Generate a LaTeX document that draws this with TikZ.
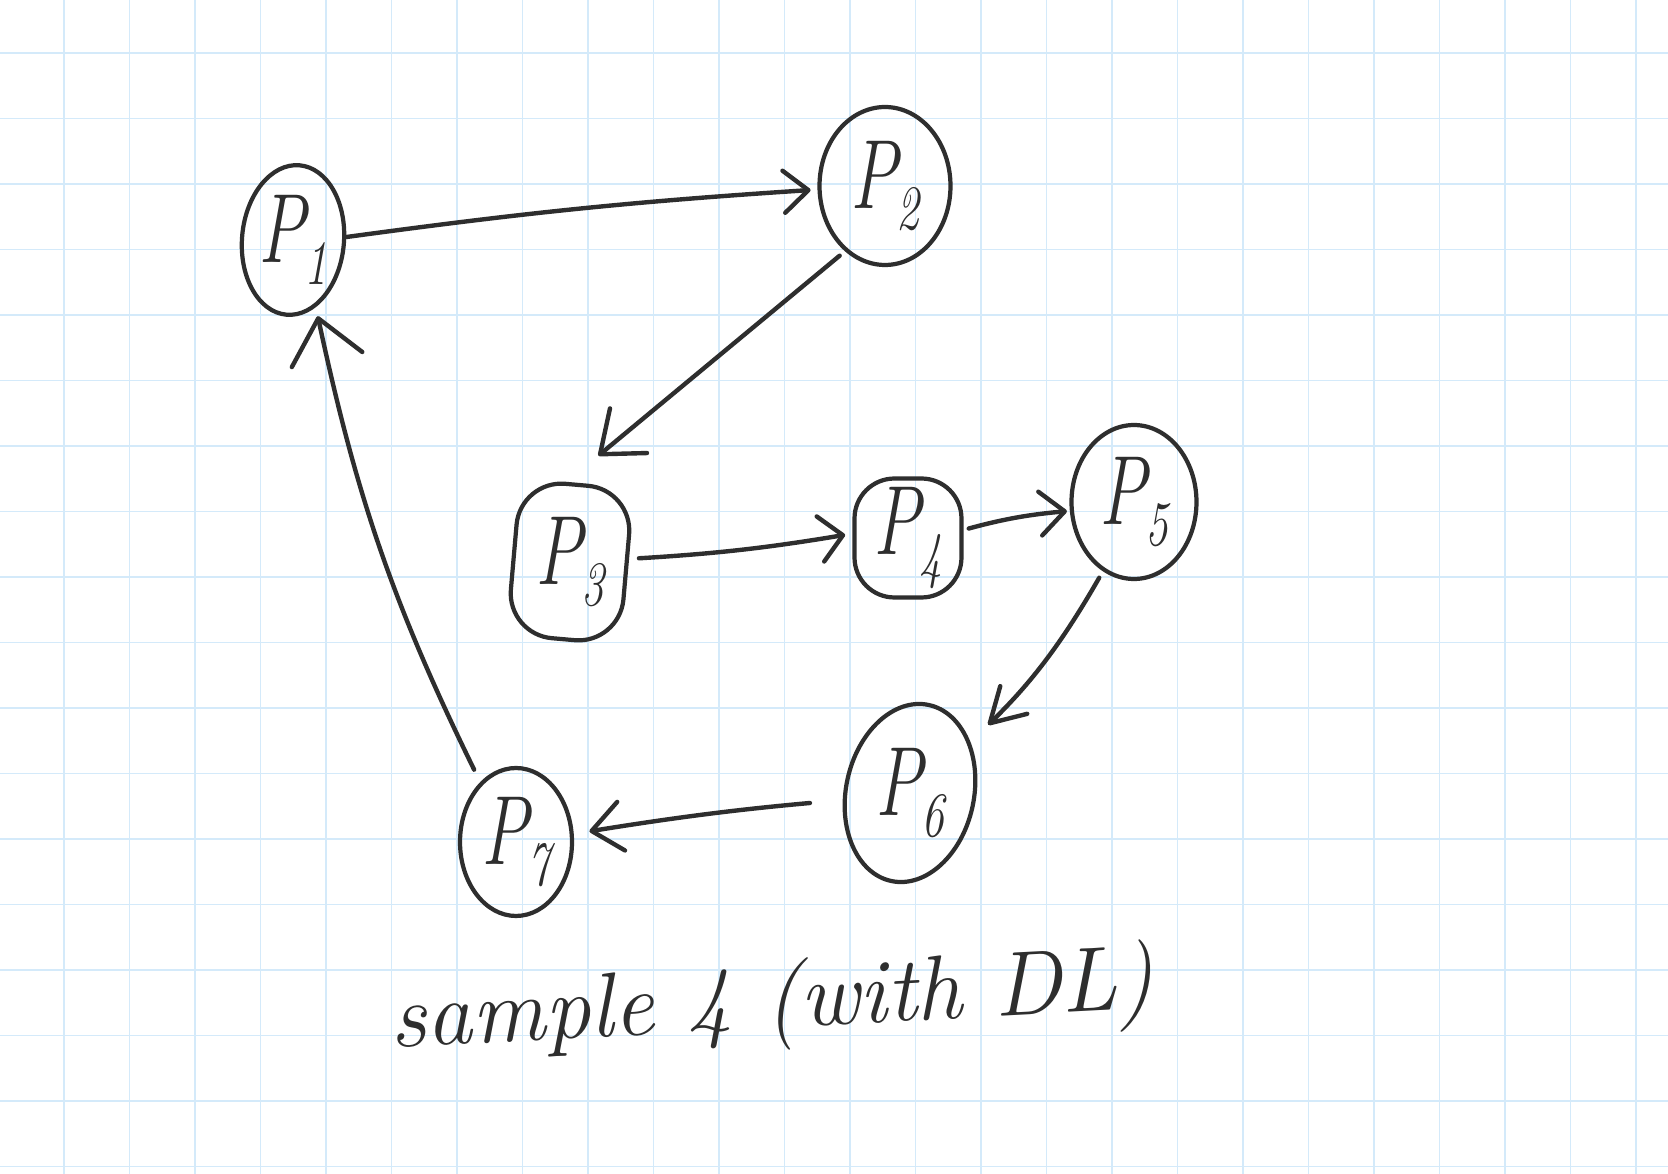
\documentclass[tikz,border=0pt]{standalone}
\usepackage{fontspec}
\usepackage{graphicx}
\usetikzlibrary{shapes.geometric,arrows.meta}
\definecolor{ink}{RGB}{46,46,46}
\definecolor{gridblue}{RGB}{212,234,250}
% process label: a narrow P with a lowered index
\newcommand{\plab}[1]{\scalebox{0.72}[1]{P\kern-1pt\raisebox{-0.22em}{\fontsize{36}{36}\selectfont #1}}}

\begin{document}
\begin{tikzpicture}[x=0.02cm,y=0.02cm,
  gridline/.style={draw=gridblue,line width=1.1pt},
  proc/.style={draw=ink,line width=2.4pt,ellipse,inner sep=0pt,outer sep=0pt},
  procbox/.style={proc,rectangle,rounded corners=0.9cm},
  every label/.style={font=\fontsize{56}{56}\selectfont\itshape,text=ink,inner sep=0pt},
  link/.style={draw=ink,line width=2.5pt,line cap=round},
  headsize/.style 2 args={-{Straight Barb[length=#1,width=#2,round]}},
]
\fill[white] (0,0) rectangle (1668,1174);
\useasboundingbox (0,0) rectangle (1668,1174);

% squared paper
\foreach \i in {0,...,24} \draw[gridline] ({64+65.5*\i},0) -- ++(0,1174);
\foreach \k in {0,...,17} \draw[gridline] (0,{1121-65.5*\k}) -- ++(1668,0);

% processes
\node[proc,minimum width=2.04cm,minimum height=3cm,rotate=-5,label=center:\plab{1}] (p1) at (293,934) {};
\node[proc,minimum width=2.62cm,minimum height=3.16cm,label=center:\plab{2}] (p2) at (885,988) {};
\node[procbox,minimum width=2.26cm,minimum height=3.1cm,rotate=-5,label=center:\plab{3}] (p3) at (570,612) {};
\node[procbox,minimum width=2.14cm,minimum height=2.38cm,rounded corners=0.8cm,label=center:\plab{4}] (p4) at (908,636) {};
\node[proc,minimum width=2.5cm,minimum height=3.08cm,label=center:\plab{5}] (p5) at (1134,672) {};
\node[proc,minimum width=2.56cm,minimum height=3.6cm,rotate=-12,label=center:\plab{6}] (p6) at (910,381) {};
\node[proc,minimum width=2.24cm,minimum height=2.96cm,label=center:\plab{7}] (p7) at (516,332) {};

% wait-for edges
\draw[link,headsize={14pt}{24pt},shorten >=0.18cm] (p1.8) to[bend left=2] (p2.183);
\draw[link,headsize={21pt}{33pt},shorten <=0.18cm,shorten >=0.88cm] (p2.239) -- (p3.99);
\draw[link,headsize={13pt}{26pt},shorten <=0.24cm,shorten >=0.19cm] (p3.8) to[bend right=3] (p4.175);
\draw[link,headsize={14pt}{25pt},shorten <=0.15cm,shorten >=0.1cm] (p4.8) to[bend left=5] (p5.188);
\draw[link,headsize={19pt}{22pt},shorten <=0.19cm,shorten >=0.54cm] (p5.246) to[bend left=8] (p6.52);
\draw[link,headsize={17pt}{28pt},shorten <=0.7cm,shorten >=0.36cm] (p6.198) to[bend right=2] (p7.8);
\draw[link,headsize={24pt}{41pt},shorten <=0.32cm,shorten >=0.23cm] (p7.121) to[bend left=7] (p1.294);

% caption
\node[font=\fontsize{52}{52}\selectfont\itshape,text=ink,rotate=3] (cap) at (772,169) {sample 4 (with DL)};
\end{tikzpicture}
\end{document}
